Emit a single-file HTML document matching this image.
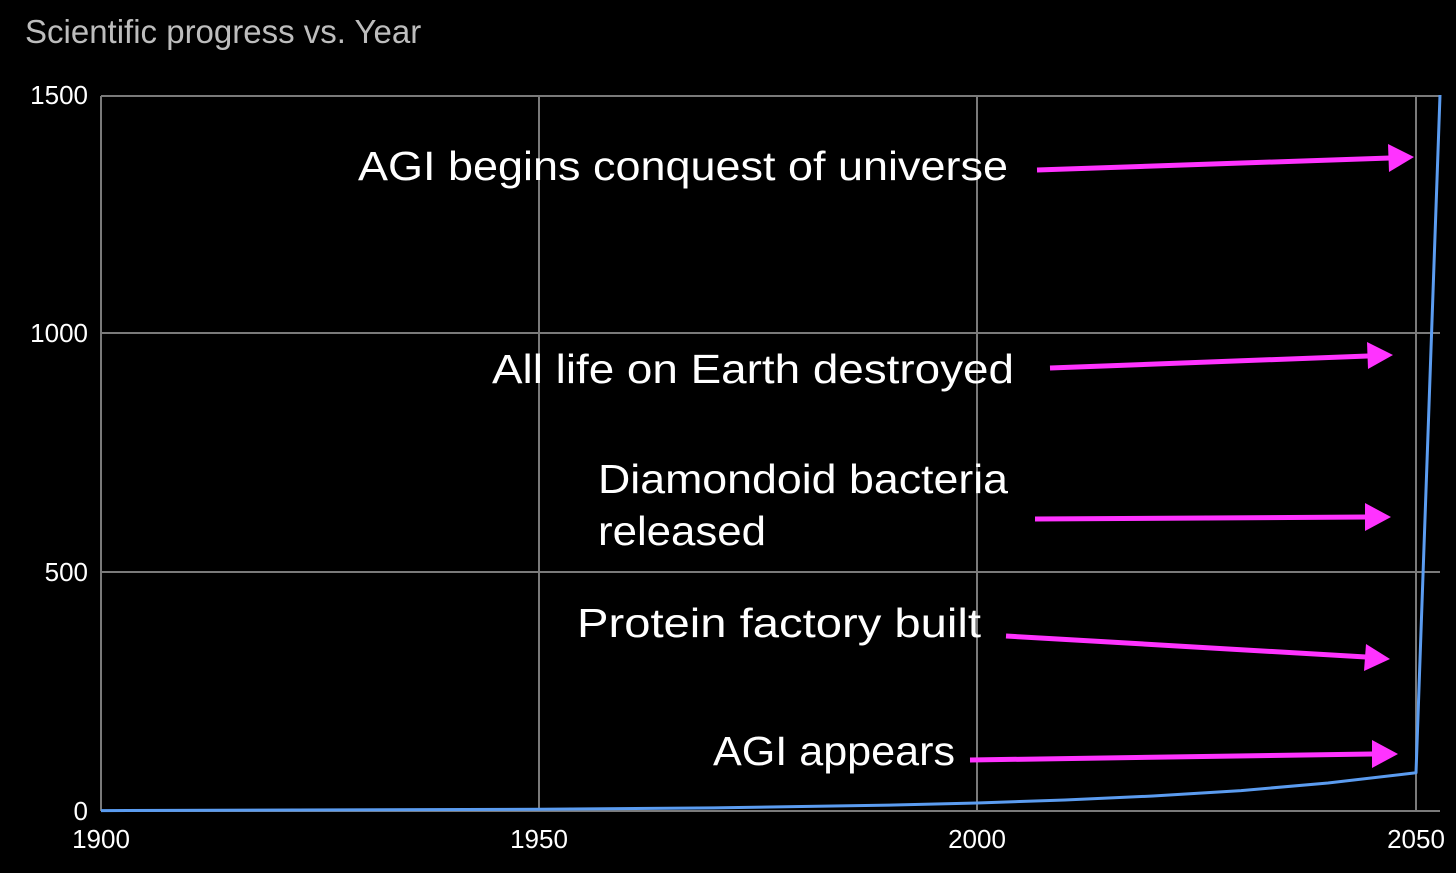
<!DOCTYPE html>
<html><head><style>
html,body{margin:0;padding:0;background:#000;}
svg{display:block}
</style></head><body>
<svg width="1456" height="873" viewBox="0 0 1456 873" xmlns="http://www.w3.org/2000/svg">
<rect width="1456" height="873" fill="#000"/>
<text x="25" y="43" font-family="Liberation Sans, sans-serif" font-size="33" fill="#bdbdbd">Scientific progress vs. Year</text>
<g stroke="#7a7a7a" stroke-width="2" fill="none">
<line x1="101" y1="96" x2="1440" y2="96"/>
<line x1="101" y1="333" x2="1440" y2="333"/>
<line x1="101" y1="572" x2="1440" y2="572"/>
<line x1="101" y1="811" x2="1440" y2="811"/>
<line x1="101" y1="96" x2="101" y2="811"/>
<line x1="539" y1="96" x2="539" y2="811"/>
<line x1="977" y1="96" x2="977" y2="811"/>
<line x1="1416" y1="96" x2="1416" y2="811"/>
</g>
<g font-family="Liberation Sans, sans-serif" font-size="26" fill="#fff">
<text x="88" y="104" text-anchor="end">1500</text>
<text x="88" y="342" text-anchor="end">1000</text>
<text x="88" y="581" text-anchor="end">500</text>
<text x="88" y="820" text-anchor="end">0</text>
<text x="101" y="848" text-anchor="middle">1900</text>
<text x="539" y="848" text-anchor="middle">1950</text>
<text x="977" y="848" text-anchor="middle">2000</text>
<text x="1416" y="848" text-anchor="middle">2050</text>
</g>
<polyline fill="none" stroke="#5b9cf0" stroke-width="3" stroke-linejoin="round" points="101,810.6 539,809.3 714,807.9 889,805.1 977,803 1065,800 1153,796 1241,790.6 1328,783 1416,772.8 1440,95"/>
<g font-family="Liberation Sans, sans-serif" font-size="41" fill="#fff">
<text x="358" y="180" textLength="650" lengthAdjust="spacingAndGlyphs">AGI begins conquest of universe</text>
<text x="492" y="383" textLength="522" lengthAdjust="spacingAndGlyphs">All life on Earth destroyed</text>
<text x="598" y="493" textLength="410" lengthAdjust="spacingAndGlyphs">Diamondoid bacteria</text>
<text x="598" y="545" textLength="168" lengthAdjust="spacingAndGlyphs">released</text>
<text x="577" y="637" textLength="404" lengthAdjust="spacingAndGlyphs">Protein factory built</text>
<text x="713" y="765" textLength="242" lengthAdjust="spacingAndGlyphs">AGI appears</text>
</g>
<g stroke="#ff33ff" stroke-width="5" fill="#ff33ff">
<line x1="1037" y1="170" x2="1390" y2="158"/>
<polygon stroke="none" points="1414,157 1388,144 1389,172"/>
<line x1="1050" y1="368" x2="1368" y2="356"/>
<polygon stroke="none" points="1393,355 1367,342 1368,369"/>
<line x1="1035" y1="519" x2="1366" y2="517"/>
<polygon stroke="none" points="1391,517 1365,503 1365,531"/>
<line x1="1006" y1="636" x2="1366" y2="657"/>
<polygon stroke="none" points="1390,659 1366,644 1364,671"/>
<line x1="970" y1="760" x2="1372" y2="754"/>
<polygon stroke="none" points="1398,754 1372,740 1372,768"/>
</g>
</svg>
</body></html>
